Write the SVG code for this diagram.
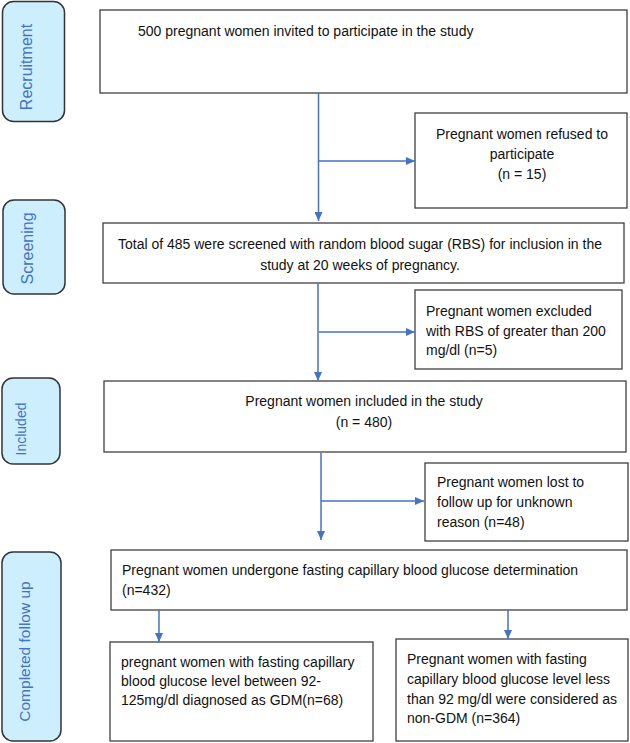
<svg xmlns="http://www.w3.org/2000/svg" width="630" height="743" viewBox="0 0 630 743">
<style>
  .box { fill: #ffffff; stroke: #3f3f3f; stroke-width: 1.3; }
  .pill { fill: #cdeefd; stroke: #333333; stroke-width: 1.5; }
  .t { font-family: "Liberation Sans", Arial, sans-serif; font-size: 14px; fill: #111111; }
  .c { text-anchor: middle; }
  .lab { font-family: "Liberation Sans", Arial, sans-serif; font-size: 16px; fill: #4472c4; text-anchor: middle; }
  .conn { stroke: #4472c4; stroke-width: 1.5; fill: none; }
</style>
<defs>
  <marker id="arr" markerUnits="userSpaceOnUse" markerWidth="9" markerHeight="8" refX="9" refY="4" orient="auto">
    <path d="M0,0 L9,4 L0,8 z" fill="#4472c4"/>
  </marker>
</defs>
<rect width="630" height="743" fill="#ffffff"/>

<g id="stage-recruitment">
  <rect class="pill" x="2.5" y="1.5" width="62" height="120" rx="11"/>
  <text class="lab" transform="translate(32,67) rotate(-90)">Recruitment</text>
</g>
<g id="stage-screening">
  <rect class="pill" x="3" y="200" width="62" height="94" rx="11"/>
  <text class="lab" transform="translate(33,248.5) rotate(-90)">Screening</text>
</g>
<g id="stage-included">
  <rect class="pill" x="2" y="378" width="58" height="86" rx="11"/>
  <text class="lab" style="font-size:14px" transform="translate(26,429) rotate(-90)">Included</text>
</g>
<g id="stage-followup">
  <rect class="pill" x="2" y="552" width="59" height="189" rx="11"/>
  <text class="lab" style="font-size:15.5px" transform="translate(30,651.5) rotate(-90)">Completed follow up</text>
</g>

<g id="invited">
  <rect class="box" x="100" y="10" width="527" height="83"/>
  <text class="t" x="138" y="36">500 pregnant women invited to participate in the study</text>
</g>
<g id="refused">
  <rect class="box" x="415" y="113" width="212" height="95"/>
  <text class="t c" x="522" y="139">Pregnant women refused to</text>
  <text class="t c" x="522" y="159">participate</text>
  <text class="t c" x="522" y="179">(n = 15)</text>
</g>
<g id="screened">
  <rect class="box" x="103" y="223" width="521" height="60"/>
  <text class="t c" x="360" y="249">Total of 485 were screened with random blood sugar (RBS) for inclusion in the</text>
  <text class="t c" x="360" y="270">study at 20 weeks of pregnancy.</text>
</g>
<g id="excluded">
  <rect class="box" x="415" y="290" width="207" height="79"/>
  <text class="t" x="426" y="316">Pregnant women excluded</text>
  <text class="t" x="426" y="336">with RBS of greater than 200</text>
  <text class="t" x="426" y="355">mg/dl (n=5)</text>
</g>
<g id="included">
  <rect class="box" x="104" y="381" width="522" height="71"/>
  <text class="t c" x="364" y="406">Pregnant women included in the study</text>
  <text class="t c" x="364" y="427">(n = 480)</text>
</g>
<g id="lost">
  <rect class="box" x="425" y="463" width="203" height="78"/>
  <text class="t" x="437" y="487">Pregnant women lost to</text>
  <text class="t" x="437" y="507">follow up for unknown</text>
  <text class="t" x="437" y="527">reason (n=48)</text>
</g>
<g id="fasting">
  <rect class="box" x="111" y="550" width="516" height="60"/>
  <text class="t" x="122" y="575">Pregnant women undergone fasting capillary blood glucose determination</text>
  <text class="t" x="122" y="595">(n=432)</text>
</g>
<g id="gdm">
  <rect class="box" x="110" y="642" width="263" height="99"/>
  <text class="t" x="121" y="667">pregnant women with fasting capillary</text>
  <text class="t" x="121" y="686">blood glucose level between 92-</text>
  <text class="t" x="121" y="705">125mg/dl diagnosed as GDM(n=68)</text>
</g>
<g id="nongdm">
  <rect class="box" x="396" y="639" width="232" height="102"/>
  <text class="t" x="407" y="664"> Pregnant women with fasting</text>
  <text class="t" x="407" y="684">capillary blood glucose level less</text>
  <text class="t" x="407" y="704">than 92 mg/dl were considered as</text>
  <text class="t" x="407" y="723">non-GDM (n=364)</text>
</g>

<g id="connectors">
  <line class="conn" x1="318.5" y1="93" x2="318.5" y2="221" marker-end="url(#arr)"/>
  <line class="conn" x1="318.5" y1="161" x2="415" y2="161" marker-end="url(#arr)"/>
  <line class="conn" x1="318" y1="283" x2="318" y2="381" marker-end="url(#arr)"/>
  <line class="conn" x1="319" y1="332" x2="415" y2="332" marker-end="url(#arr)"/>
  <line class="conn" x1="321" y1="453" x2="321" y2="540" marker-end="url(#arr)"/>
  <line class="conn" x1="321" y1="501" x2="424" y2="501" marker-end="url(#arr)"/>
  <line class="conn" x1="159" y1="610" x2="159" y2="642" marker-end="url(#arr)"/>
  <line class="conn" x1="508" y1="610" x2="508" y2="639" marker-end="url(#arr)"/>
</g>
</svg>
